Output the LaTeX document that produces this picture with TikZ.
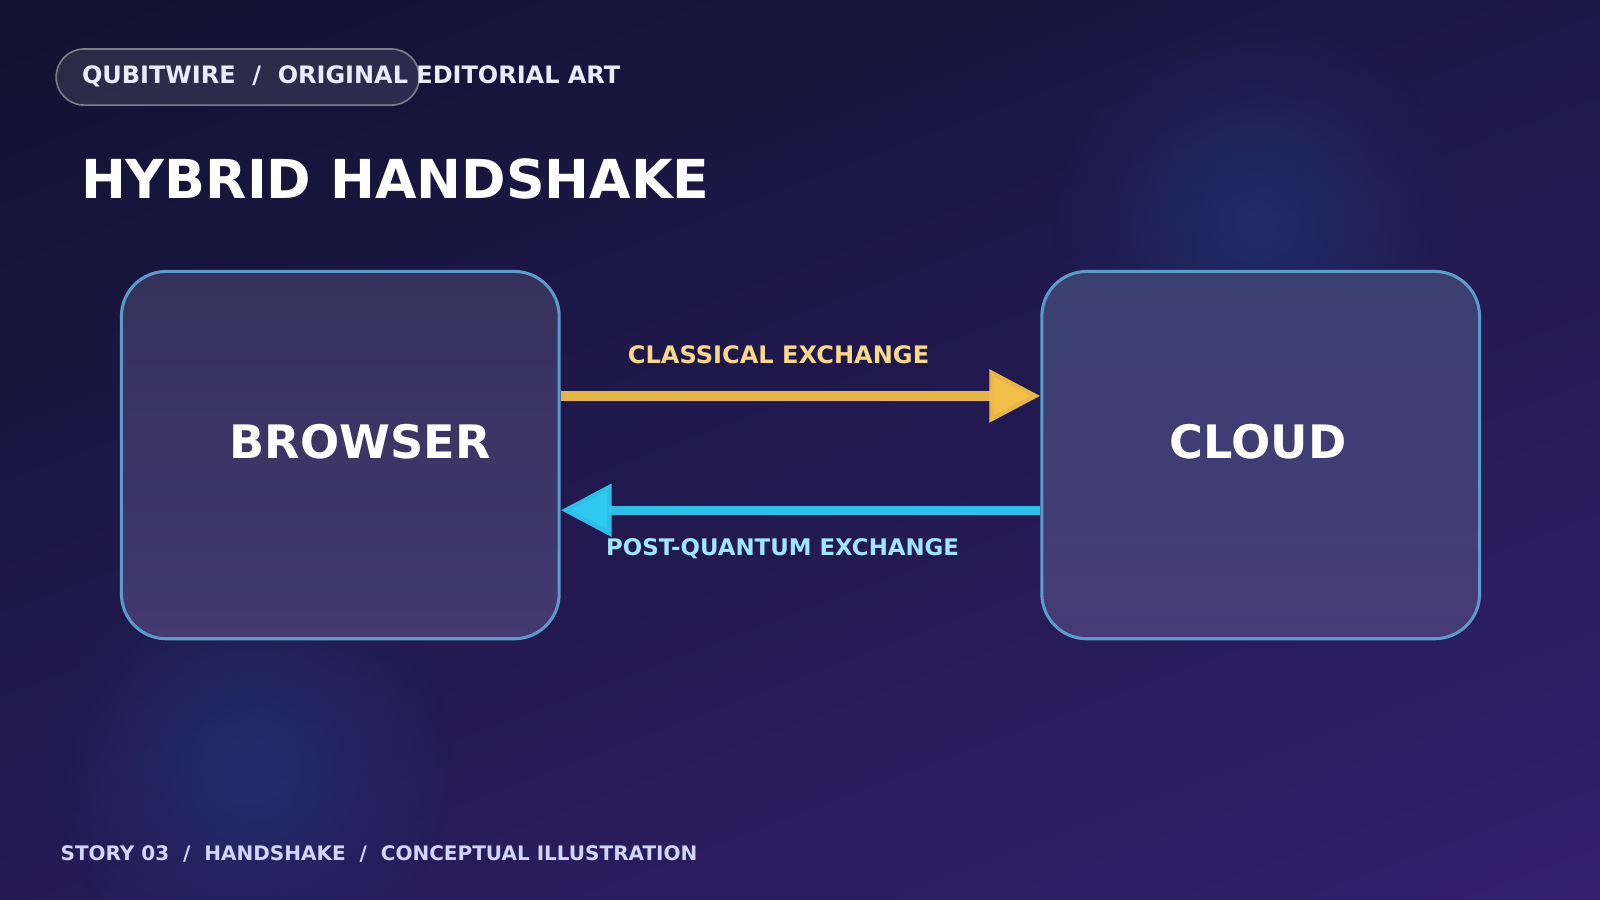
\documentclass[tikz,border=0pt]{standalone}
\usepackage{fontspec}
\setmainfont{DejaVu Sans}
\usetikzlibrary{arrows.meta, positioning, fadings, shadings}
\definecolor{bgtop}{RGB}{17,18,48}
\definecolor{bgbot}{RGB}{50,32,110}
\definecolor{glowblue}{RGB}{30,70,140}
\definecolor{boxfill}{RGB}{54,48,92}
\definecolor{boxfilllow}{RGB}{66,58,112}
\definecolor{cloudfill}{RGB}{58,64,112}
\definecolor{cloudfilllow}{RGB}{70,58,120}
\definecolor{boxedge}{RGB}{92,154,200}
\definecolor{classic}{RGB}{242,191,74}
\definecolor{classictext}{RGB}{250,216,138}
\definecolor{quantum}{RGB}{46,200,240}
\definecolor{quantumtext}{RGB}{160,230,255}
\definecolor{foot}{RGB}{210,212,250}
\tikzfading[name=glowfade, inner color=transparent!55, outer color=transparent!100]
\begin{document}
\begin{tikzpicture}[
    x=0.5pt, y=-0.5pt,
    box/.style={draw=boxedge, line width=1.5pt, rounded corners=22pt,
      minimum width=214.5pt, minimum height=180pt,
      top color=boxfill, bottom color=boxfilllow},
    boxlabel/.style={text=white, font=\bfseries\fontsize{22.6}{27}\selectfont},
    flowlabel/.style={font=\bfseries\fontsize{11.8}{14}\selectfont},
    flow/.style={line width=4.5pt, draw opacity=0.95, -{Triangle[length=25pt, width=25pt]}}
  ]
  % background
  \shade[upper left=bgtop, upper right=bgtop!60!bgbot, lower left=bgtop!40!bgbot, lower right=bgbot]
    (0,0) rectangle (1568,882);
  \useasboundingbox (0,0) rectangle (1568,882);
  \fill[glowblue, path fading=glowfade] (1230,215) circle (200);
  \fill[glowblue, path fading=glowfade] (245,750) circle (200);

  % header
  \draw[fill=white, fill opacity=0.1, draw=white!45!bgtop, line width=0.8pt, rounded corners=13.75pt]
    (55,48) rectangle (411,103);
  \node[anchor=west, text=white!92!blue, font=\bfseries\fontsize{11.75}{14}\selectfont, inner sep=0pt]
    (kicker) at (80,75) {QUBITWIRE\ \ /\ \ ORIGINAL EDITORIAL ART};
  \node[anchor=west, text=white, font=\bfseries\fontsize{26.3}{32}\selectfont, inner sep=0pt]
    (title) at (79,175) {HYBRID HANDSHAKE};

  % endpoints
  \node[box] (browser) at (333.5,446) {};
  \node[box, top color=cloudfill, bottom color=cloudfilllow] (cloud) at (1235.5,446) {};
  \node[boxlabel] (browserlabel) at (353,433) {BROWSER};
  \node[boxlabel] (cloudlabel) at (1233,433) {CLOUD};

  % exchanges
  \coordinate (cin) at ([yshift=29pt]browser.east);
  \coordinate (cout) at ([yshift=29pt]cloud.west);
  \coordinate (qin) at ([yshift=-27pt]cloud.west);
  \coordinate (qout) at ([yshift=-27pt]browser.east);
  \draw[flow, classic] (cin) -- (cout);
  \draw[flow, quantum] (qin) -- (qout);
  \node[flowlabel, text=classictext] (classiclabel) at (763,348) {CLASSICAL EXCHANGE};
  \node[flowlabel, text=quantumtext, font=\bfseries\fontsize{11.2}{14}\selectfont] (quantumlabel) at (767,538) {POST-QUANTUM EXCHANGE};

  % footer
  \node[anchor=west, text=foot, font=\bfseries\fontsize{9.8}{12}\selectfont, inner sep=0pt]
    (footer) at (59,837) {STORY 03\ \ /\ \ HANDSHAKE\ \ /\ \ CONCEPTUAL ILLUSTRATION};
\end{tikzpicture}
\end{document}
